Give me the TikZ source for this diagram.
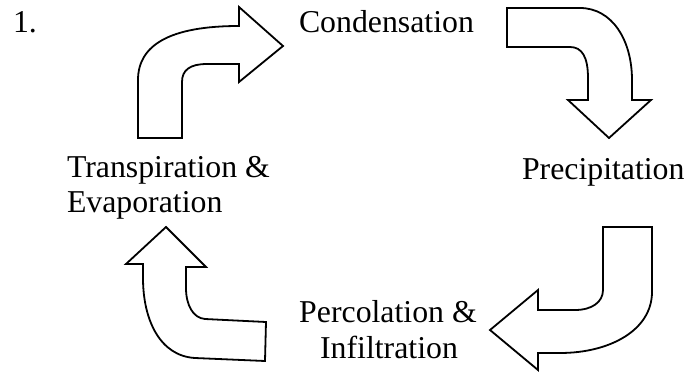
\documentclass[tikz,border=0pt]{standalone}
\usepackage{fontspec}
\setmainfont{Liberation Serif}
\begin{document}
\begin{tikzpicture}[x=1pt,y=-1pt,
  lbl/.style={inner sep=0pt,outer sep=0pt,font=\fontsize{31.8}{35}\selectfont},
  bent/.style={draw=black,fill=white,line width=1.8pt,line join=miter}]
\useasboundingbox (0,0) rectangle (689,372);
% labels
\node[lbl,anchor=base west] (num) at (13,32) {1.};
\node[lbl,anchor=base west] (cond) at (299,32) {Condensation};
\node[lbl,anchor=base west] (prec) at (522,179) {Precipitation};
\node[lbl,anchor=base west] (trans) at (67,177) {Transpiration \&};
\node[lbl,anchor=base west] (evap) at (67,212) {Evaporation};
\node[lbl,anchor=base] (perc) at (388,322) {Percolation \&};
\node[lbl,anchor=base] (infil) at (389,358) {Infiltration};
% arrow 1: up then right
\draw[bent] (138,138) -- (138,80) .. controls (138,45) and (170,26) .. (239,26)
  -- (239,7) -- (283,46) -- (239,82) -- (239,64) -- (207,64)
  .. controls (190,64) and (182,70) .. (182,82) -- (182,138) -- cycle;
% arrow 2: right then down
\draw[bent] (507,8) -- (580,8) .. controls (612,8) and (632,40) .. (632,80)
  -- (632,100) -- (651,100) -- (609,138) -- (568,100) -- (588,100) -- (588,78)
  .. controls (588,57) and (582,47) .. (570,47) -- (507,47) -- cycle;
% arrow 3: down then left
\draw[bent] (603,227) -- (652,227) -- (652,292) .. controls (652,330) and (610,353) .. (560,353)
  -- (538,353) -- (538,370) -- (490,330) -- (538,290) -- (538,310) -- (575,310)
  .. controls (592,310) and (603,302) .. (603,290) -- cycle;
% arrow 4: left then up
\draw[bent] (266,322) -- (265,361) -- (195,358) .. controls (160,356) and (143,320) .. (143,278)
  -- (143,264) -- (126,264) -- (166,227) -- (206,267) -- (186,267) -- (186,288)
  .. controls (186,305) and (193,318) .. (205,319) -- cycle;
\end{tikzpicture}
\end{document}
